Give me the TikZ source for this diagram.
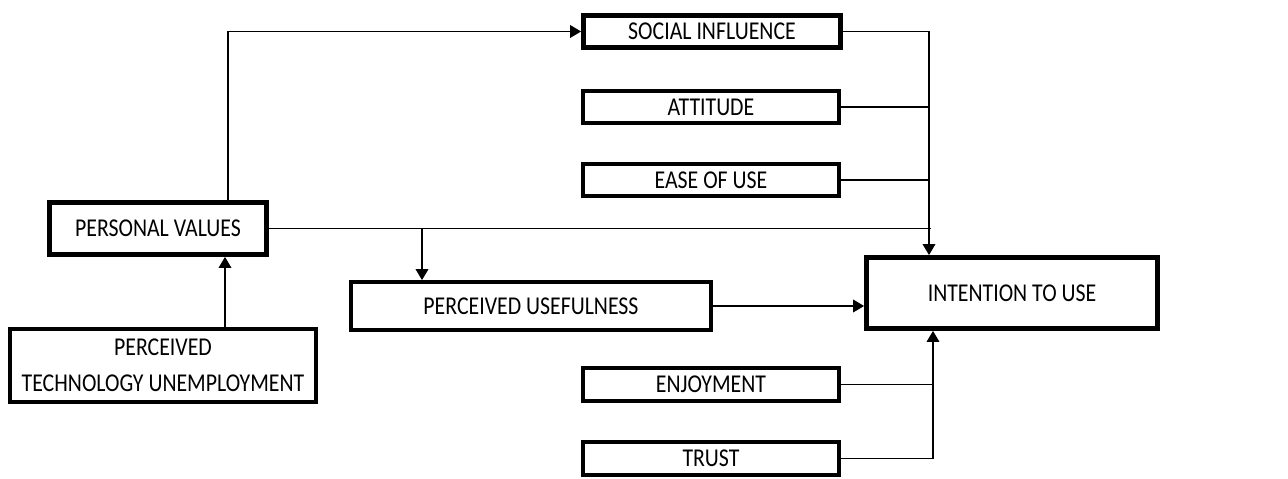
\documentclass[tikz,border=0pt]{standalone}
\usepackage{fontspec}
\setmainfont{Carlito}[FakeStretch=0.85]
\usetikzlibrary{positioning,arrows.meta,calc}

\begin{document}
\begin{tikzpicture}[
    x=0.02cm,
    y=-0.02cm,
    line width=0.7pt,
    font=\fontsize{14.6}{20.5}\selectfont,
    factor/.style={
        rectangle,
        draw=black,
        line width=2.2pt,
        fill=white,
        minimum width=5.12cm,
        minimum height=0.64cm,
        inner sep=0pt,
        text centered
    },
    core/.style={
        factor,
        line width=2.8pt
    },
    arr/.style={-{Triangle[length=6.2pt,width=7.2pt]}}
]
    \useasboundingbox (0,0) rectangle (1288,479);

    % Factors
    \node[core] (social) at (712,31.5) [minimum width=5.14cm] {SOCIAL INFLUENCE};
    \node[factor] (attitude) at (711,107) {ATTITUDE};
    \node[factor] (ease) at (711,180) {EASE OF USE};
    \node[core] (values) at (158,228.5) [minimum width=4.34cm, minimum height=1.04cm] {PERSONAL VALUES};
    \node[factor] (useful) at (531,306) [minimum width=7.2cm, minimum height=0.96cm] {PERCEIVED USEFULNESS};
    \node[core] (intention) at (1012,293) [minimum width=5.82cm, minimum height=1.42cm] {INTENTION TO USE};
    \node[factor] (unemploy) at (163,365.5) [minimum width=6.12cm, minimum height=1.46cm, align=center] {PERCEIVED\\TECHNOLOGY UNEMPLOYMENT};
    \node[factor] (enjoy) at (711,384.5) [minimum height=0.66cm] {ENJOYMENT};
    \node[factor] (trust) at (711,458.5) [minimum height=0.66cm] {TRUST};

    % Links
    \draw[arr] (228,0 |- values.north) |- (social.west);
    \draw[arr] (225,0 |- unemploy.north) -- (225,0 |- values.south);
    \draw (values.east) -- (931,0 |- values.east);
    \draw[arr] (422,0 |- values.east) -- (422,0 |- useful.north);
    \draw[arr] (useful.east) -- (useful.east -| intention.west);

    % Top bus
    \draw[arr] (social.east) -| (929,0 |- intention.north);
    \draw (attitude.east) -- (929,0 |- attitude.east);
    \draw (ease.east) -- (929,0 |- ease.east);

    % Bottom bus
    \draw[arr] (trust.east) -| (933,0 |- intention.south);
    \draw (enjoy.east) -- (933,0 |- enjoy.east);
\end{tikzpicture}
\end{document}
